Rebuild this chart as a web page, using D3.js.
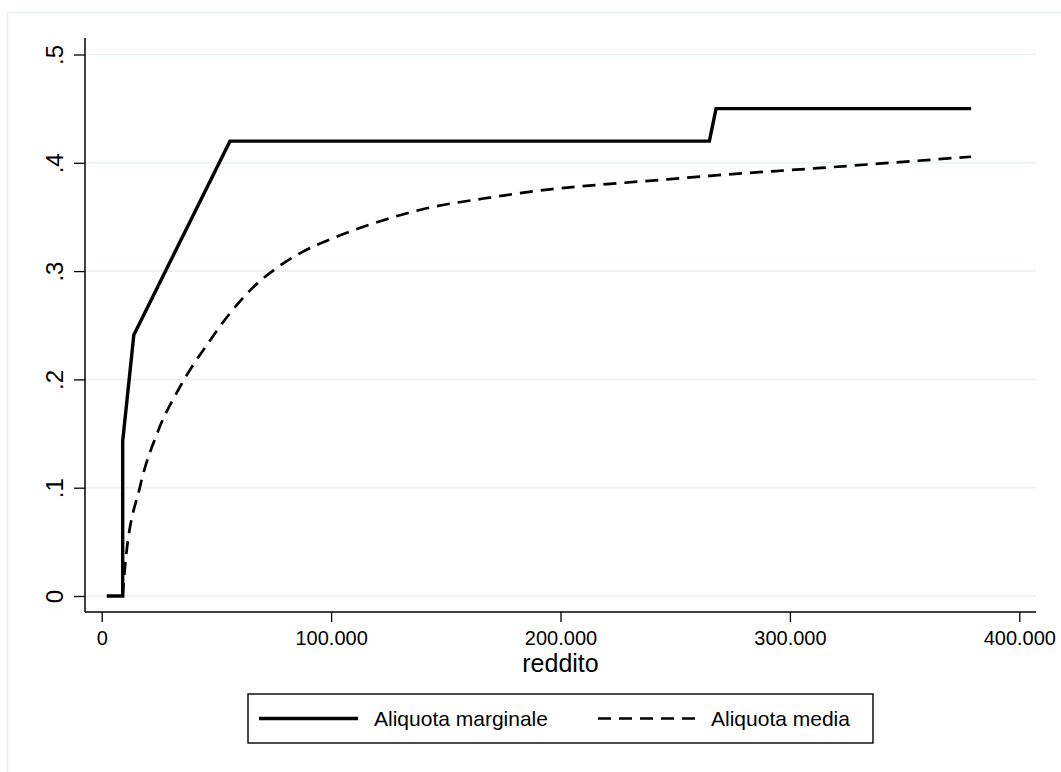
<!DOCTYPE html>
<html><head><meta charset="utf-8">
<script src="https://cdn.jsdelivr.net/npm/d3@7"></script>
<style>
html,body{margin:0;padding:0;background:#fff;}
svg{display:block;font-family:"Liberation Sans",Arial,Helvetica,sans-serif;}
</style></head>
<body>
<svg id="chart" width="1061" height="772"></svg>
<script>
// ---- data ----
const incomeMarginal = [2200, 9150, 9150, 14000, 55900, 264900, 267800, 379000];
const rateMarginal   = [0, 0, 0.143, 0.241, 0.42, 0.42, 0.45, 0.45];

const incomeAverage = [9150, 10160, 16700, 24700, 34100, 47200, 55900, 66000, 77700, 86400, 102400, 122800, 141700, 166400, 195400, 224500, 246300, 265000, 311700, 379000];
const rateAverage   = [0, 0.027, 0.101, 0.153, 0.193, 0.236, 0.261, 0.285, 0.305, 0.3164, 0.3318, 0.347, 0.358, 0.367, 0.3755, 0.381, 0.3847, 0.388, 0.395, 0.4056];

const xTicks = [0, 100000, 200000, 300000, 400000];
const yTicks = [0, 0.1, 0.2, 0.3, 0.4, 0.5];
const seriesNames = ["Aliquota marginale", "Aliquota media"];
const xTitle = "reddito";

// ---- layout ----
const svg = d3.select("#chart");
const x = d3.scaleLinear().domain([0, 400000]).range([101.7, 1019.3]);
const y = d3.scaleLinear().domain([0, 0.5]).range([596, 54.5]);
const axisLeftX = 85, axisBottomY = 612, axisTopY = 38, axisRightX = 1036;

// outer frame
svg.append("rect").attr("x", 7.5).attr("y", 12.5).attr("width", 1080).attr("height", 790)
  .attr("fill", "none").attr("stroke", "#e6eef0").attr("stroke-width", 1.5);

// grid
svg.append("g").selectAll("line").data(yTicks).join("line")
  .attr("x1", axisLeftX).attr("x2", axisRightX)
  .attr("y1", d => y(d)).attr("y2", d => y(d))
  .attr("stroke", "#eaf2f3").attr("stroke-width", 1.6);

// axes
const itLocale = d3.formatLocale({decimal: ",", thousands: ".", grouping: [3], currency: ["", "€"]});
const xFmt = itLocale.format(",");
const yFmt = d => d === 0 ? "0" : d3.format(".1f")(d).replace(/^0/, "");

const xAxis = svg.append("g").attr("transform", `translate(0,${axisBottomY})`)
  .call(d3.axisBottom(x).tickValues(xTicks).tickFormat(xFmt).tickSizeOuter(0).tickSize(10).tickPadding(9));
xAxis.select(".domain").attr("d", `M${axisLeftX},0H${axisRightX}`).attr("stroke", "#000").attr("stroke-width", 1.5);
xAxis.selectAll(".tick line").attr("stroke", "#000").attr("stroke-width", 1.3);
xAxis.selectAll(".tick text").attr("font-size", 20).attr("fill", "#000")
  .attr("font-family", "Liberation Sans, Arial, sans-serif").attr("dy", "0.71em");

const yAxis = svg.append("g").attr("transform", `translate(${axisLeftX},0)`)
  .call(d3.axisLeft(y).tickValues(yTicks).tickFormat(yFmt).tickSizeOuter(0).tickSize(11));
yAxis.select(".domain").attr("d", `M0,${axisTopY}V${axisBottomY}`).attr("stroke", "#000").attr("stroke-width", 1.5);
yAxis.selectAll(".tick line").attr("stroke", "#000").attr("stroke-width", 1.3);
yAxis.selectAll(".tick text")
  .attr("font-size", 24).attr("fill", "#000")
  .attr("font-family", "Liberation Sans, Arial, sans-serif")
  .attr("text-anchor", "middle")
  .attr("x", null).attr("dy", null)
  .attr("transform", "translate(-22,0) rotate(-90)");

// axis title
svg.append("text").attr("x", (axisLeftX + axisRightX) / 2).attr("y", 672)
  .attr("text-anchor", "middle").attr("font-size", 25).attr("fill", "#000").text(xTitle);

// lines
const marginalData = incomeMarginal.map((v, i) => [v, rateMarginal[i]]);
const averageData = incomeAverage.map((v, i) => [v, rateAverage[i]]);

svg.append("path").datum(marginalData)
  .attr("d", d3.line().x(d => x(d[0])).y(d => y(d[1])))
  .attr("fill", "none").attr("stroke", "#000").attr("stroke-width", 3.4).attr("stroke-linejoin", "miter");

svg.append("path").datum(averageData)
  .attr("d", d3.line().x(d => x(d[0])).y(d => y(d[1])).curve(d3.curveMonotoneX))
  .attr("fill", "none").attr("stroke", "#000").attr("stroke-width", 2.7).attr("stroke-dasharray", "13,8");

// legend
const lg = svg.append("g");
lg.append("rect").attr("x", 248).attr("y", 694).attr("width", 625).attr("height", 49)
  .attr("fill", "#fff").attr("stroke", "#000").attr("stroke-width", 1.4);
const ly = 718.5;
lg.append("line").attr("x1", 259).attr("x2", 358).attr("y1", ly).attr("y2", ly)
  .attr("stroke", "#000").attr("stroke-width", 3.4);
lg.append("text").attr("x", 374).attr("y", ly + 7.5).attr("font-size", 21).attr("fill", "#000").text(seriesNames[0]);
lg.append("line").attr("x1", 598).attr("x2", 698).attr("y1", ly).attr("y2", ly)
  .attr("stroke", "#000").attr("stroke-width", 2.7).attr("stroke-dasharray", "13,8");
lg.append("text").attr("x", 711).attr("y", ly + 7.5).attr("font-size", 21).attr("fill", "#000").text(seriesNames[1]);
</script>
</body></html>
